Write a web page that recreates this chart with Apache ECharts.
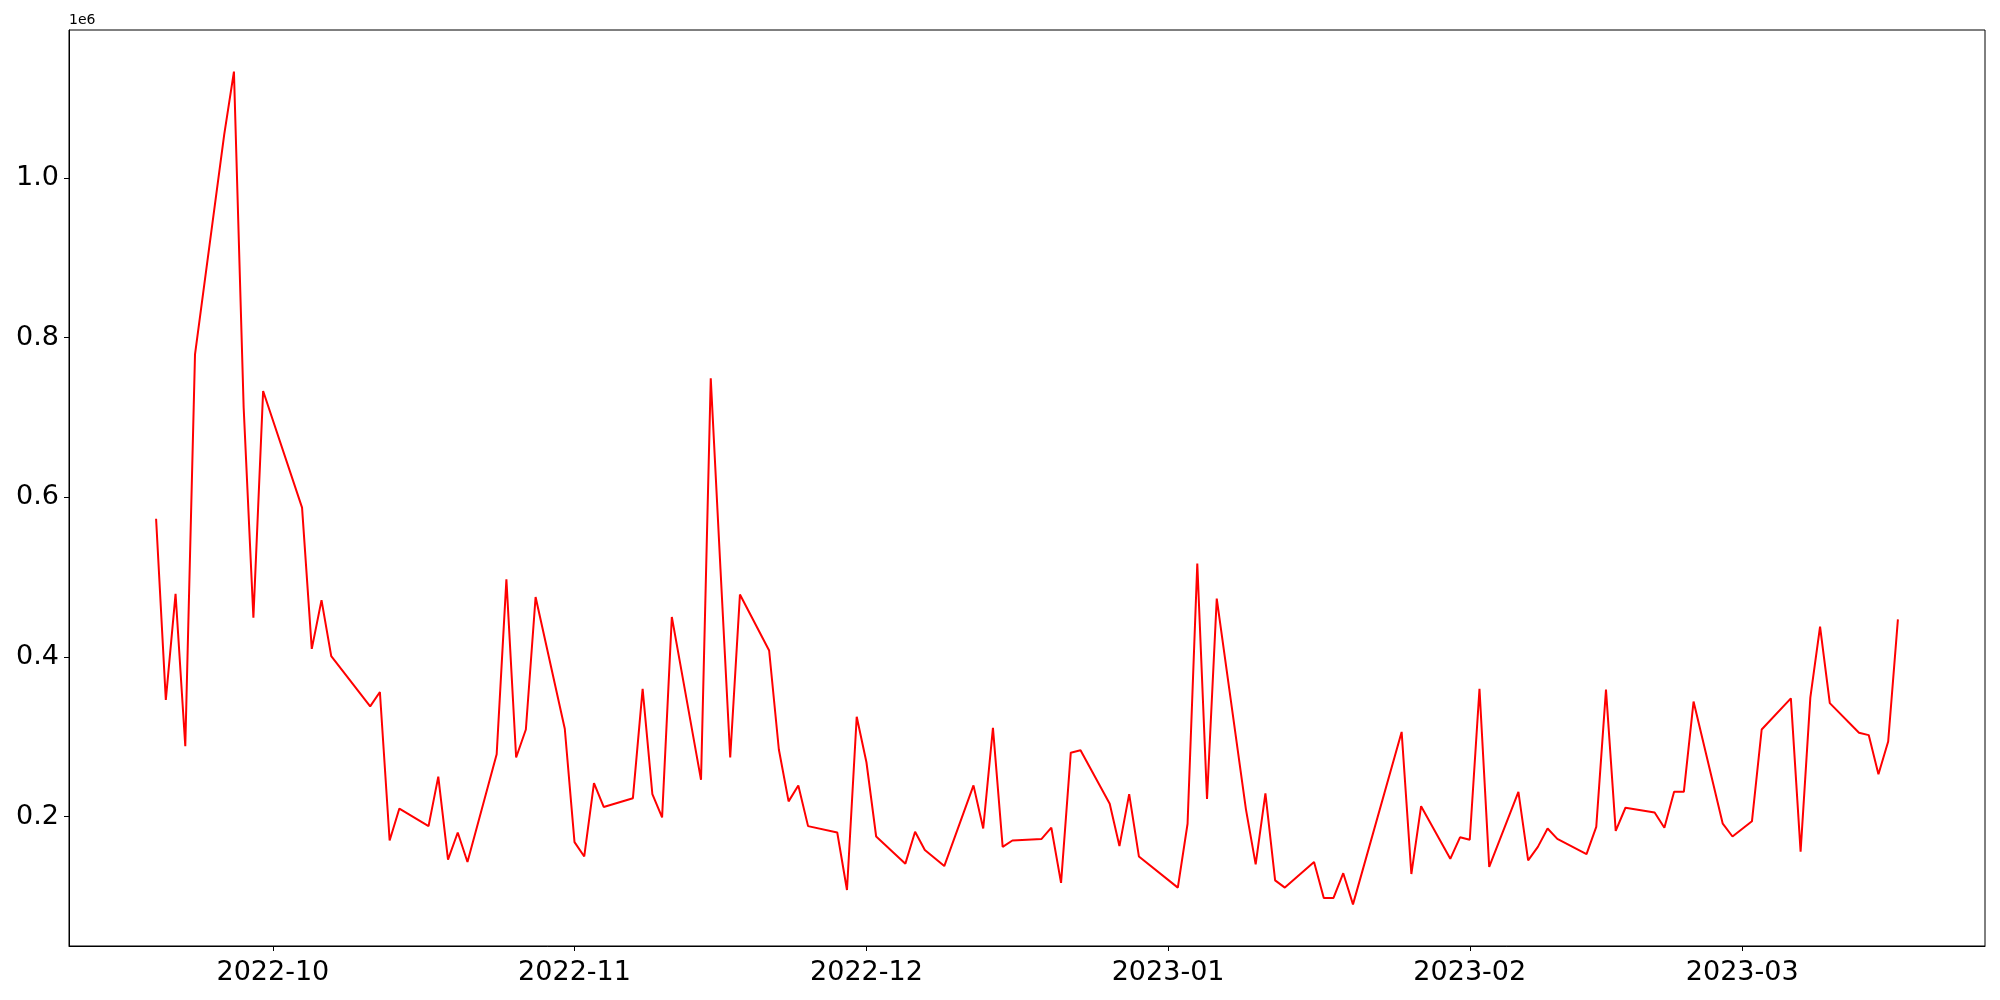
<!DOCTYPE html>
<html>
<head>
<meta charset="utf-8">
<script src="https://cdn.jsdelivr.net/npm/echarts@6/dist/echarts.min.js"></script>
<style>
  html, body { margin: 0; padding: 0; background: #fff; }
  #chart { width: 2000px; height: 1000px; }
</style>
</head>
<body>
<div id="chart"></div>
<script>
// trading days shown in the chart
const dates = [
  '2022-09-19','2022-09-20','2022-09-21','2022-09-22','2022-09-23','2022-09-26','2022-09-27','2022-09-28','2022-09-29','2022-09-30',
  '2022-10-04','2022-10-05','2022-10-06','2022-10-07','2022-10-11','2022-10-12','2022-10-13','2022-10-14','2022-10-17','2022-10-18',
  '2022-10-19','2022-10-20','2022-10-21','2022-10-24','2022-10-25','2022-10-26','2022-10-27','2022-10-28','2022-10-31',
  '2022-11-01','2022-11-02','2022-11-03','2022-11-04','2022-11-07','2022-11-08','2022-11-09','2022-11-10','2022-11-11','2022-11-14',
  '2022-11-15','2022-11-16','2022-11-17','2022-11-18','2022-11-21','2022-11-22','2022-11-23','2022-11-24','2022-11-25','2022-11-28',
  '2022-11-29','2022-11-30',
  '2022-12-01','2022-12-02','2022-12-05','2022-12-06','2022-12-07','2022-12-08','2022-12-09','2022-12-12','2022-12-13','2022-12-14',
  '2022-12-15','2022-12-16','2022-12-19','2022-12-20','2022-12-21','2022-12-22','2022-12-23','2022-12-26','2022-12-27','2022-12-28',
  '2022-12-29',
  '2023-01-02','2023-01-03','2023-01-04','2023-01-05','2023-01-06','2023-01-09','2023-01-10','2023-01-11','2023-01-12','2023-01-13',
  '2023-01-16','2023-01-17','2023-01-18','2023-01-19','2023-01-20','2023-01-25','2023-01-26','2023-01-27','2023-01-30','2023-01-31',
  '2023-02-01','2023-02-02','2023-02-03','2023-02-06','2023-02-07','2023-02-08','2023-02-09','2023-02-10','2023-02-13','2023-02-14',
  '2023-02-15','2023-02-16','2023-02-17','2023-02-20','2023-02-21','2023-02-22','2023-02-23','2023-02-24','2023-02-27','2023-02-28',
  '2023-03-02','2023-03-03','2023-03-06','2023-03-07','2023-03-08','2023-03-09','2023-03-10','2023-03-13','2023-03-14','2023-03-15',
  '2023-03-16','2023-03-17'
]

const values = [
  573000, 346000, 479000, 288000, 779000, 1054000, 1133000, 712000, 449000, 733000,
  587000, 410000, 471000, 401000, 338000, 356000, 170000, 210000, 188000, 250000,
  146000, 180000, 143000, 278000, 497000, 274000, 309000, 475000, 310000,
  168000, 150000, 242000, 212000, 223000, 360000, 228000, 199000, 450000, 246000,
  749000, 510000, 274000, 478000, 408000, 284000, 219000, 239000, 188000, 180000,
  108000, 325000,
  268000, 175000, 141000, 181000, 158000, 148000, 138000, 239000, 185000, 311000,
  162000, 170000, 172000, 186000, 117000, 280000, 283000, 216000, 163000, 228000,
  150000,
  111000, 191000, 517000, 222000, 473000, 209000, 140000, 229000, 120000, 111000,
  143000, 98000, 98000, 129000, 90000, 306000, 128000, 213000, 147000, 174000,
  171000, 360000, 137000, 231000, 145000, 162000, 185000, 172000, 153000, 187000,
  359000, 182000, 211000, 205000, 186000, 231000, 231000, 344000, 191000, 175000,
  194000, 309000, 348000, 156000, 349000, 438000, 342000, 305000, 302000, 253000,
  294000, 447000
]

const xTicks = ['2022-10-01', '2022-11-01', '2022-12-01', '2023-01-01', '2023-02-01', '2023-03-01']
const yTicks = [200000, 400000, 600000, 800000, 1000000]

function toTime(s) {
    let p = s.split('-').map(Number)
    return Date.UTC(p[0], p[1] - 1, p[2])
}

let times = dates.map(toTime)
let seriesData = times.map((t, i) => [t, values[i]])

// matplotlib style 5% margins
let tMin = times[0], tMax = times[times.length - 1]
let vMin = Math.min(...values), vMax = Math.max(...values)
let xPad = (tMax - tMin) * 0.05
let yPad = (vMax - vMin) * 0.05

const font = 'DejaVu Sans'

let Mycharts = echarts.init(document.getElementById('chart'), null, { renderer: 'canvas' })
let option = {
    animation: false,
    backgroundColor: '#fff',
    grid: {
        left: 69,
        right: 15,
        top: 30,
        bottom: 54,
        show: true,
        borderColor: '#000',
        borderWidth: 1,
        containLabel: false,
        outerBoundsMode: 'none'
    },
    graphic: [{
        type: 'text',
        left: 69,
        top: 13,
        style: { text: '1e6', fontSize: 14, fontFamily: font, fill: '#000' }
    }],
    xAxis: {
        type: 'value',
        scale: true,
        min: tMin - xPad,
        max: tMax + xPad,
        axisLine: { show: true, onZero: false, lineStyle: { color: '#000', width: 1 } },
        axisTick: {
            show: true,
            length: 5,
            lineStyle: { color: '#000', width: 1 },
            customValues: xTicks.map(toTime)
        },
        axisLabel: {
            margin: 13,
            fontSize: 27,
            fontFamily: font,
            color: '#000',
            customValues: xTicks.map(toTime),
            formatter: function (v) {
                let d = new Date(v)
                let m = d.getUTCMonth() + 1
                return d.getUTCFullYear() + '-' + (m < 10 ? '0' + m : m)
            }
        },
        splitLine: { show: false }
    },
    yAxis: {
        type: 'value',
        min: vMin - yPad,
        max: vMax + yPad,
        axisLine: { show: true, onZero: false, lineStyle: { color: '#000', width: 1 } },
        axisTick: {
            show: true,
            length: 5,
            lineStyle: { color: '#000', width: 1 },
            customValues: yTicks
        },
        axisLabel: {
            margin: 10,
            fontSize: 27,
            fontFamily: font,
            color: '#000',
            customValues: yTicks,
            formatter: function (v) {
                return (v / 1e6).toFixed(1)
            }
        },
        splitLine: { show: false }
    },
    series: [{
        type: 'line',
        data: seriesData,
        showSymbol: false,
        symbol: 'none',
        lineStyle: { color: '#ff0000', width: 2 }
    }]
}
Mycharts.setOption(option)
</script>
</body>
</html>
